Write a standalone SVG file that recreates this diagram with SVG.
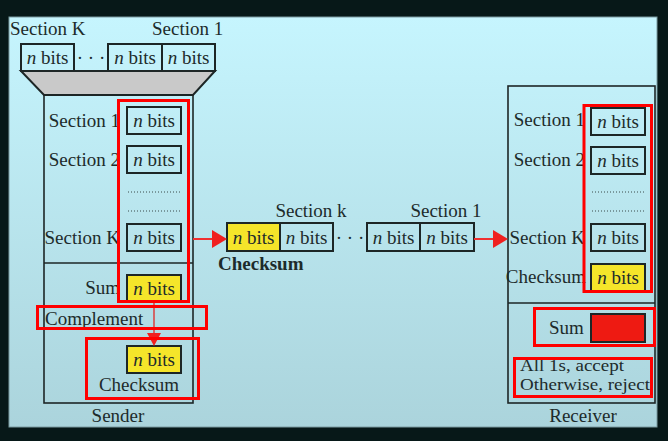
<svg xmlns="http://www.w3.org/2000/svg" width="668" height="441" viewBox="0 0 668 441">
<defs>
<linearGradient id="bg" x1="0" y1="0" x2="0" y2="1">
<stop offset="0" stop-color="#c6f5fe"/>
<stop offset="1" stop-color="#abd4dc"/>
</linearGradient>
<style>
text{font-family:"Liberation Serif","Times New Roman",serif;font-size:19px;fill:#1d2b2b}
.c{text-anchor:middle}
.e{text-anchor:end}
.box{fill:none;stroke:#1d2626;stroke-width:2}
.y{fill:#f5e52a;stroke:#1d2626;stroke-width:2}
.frame{fill:none;stroke:#1d2626;stroke-width:1.6}
.dots{stroke:#3a4a4a;stroke-width:1;stroke-dasharray:1 2}
.hl{fill:none;stroke:#ff0000;stroke-width:3}
.arr{stroke:#f03030;stroke-width:2}
.ah{fill:#f02020}
.sm{font-size:17px}
</style>
</defs>
<rect width="668" height="441" fill="#071818"/>
<rect x="9" y="17" width="648" height="410" fill="url(#bg)" stroke="#7a9aa0" stroke-width="1"/>

<g id="input">
<text x="10" y="35">Section K</text>
<text x="152" y="35">Section 1</text>
<rect class="box" x="21" y="44" width="53" height="27"/>
<rect class="box" x="108" y="44" width="54" height="27"/>
<rect class="box" x="162" y="44" width="53" height="27"/>
<text class="c" x="47.5" y="64"><tspan font-style="italic">n</tspan> bits</text>
<text class="c" x="135" y="64"><tspan font-style="italic">n</tspan> bits</text>
<text class="c" x="188.5" y="64"><tspan font-style="italic">n</tspan> bits</text>
<text class="c" x="91" y="64">· · ·</text>
<polygon points="21,71 215,71 193,95 44,95" fill="#c9c9c9" stroke="#1d2626" stroke-width="2"/>
</g>

<g id="sender">
<rect class="frame" x="44" y="95" width="149" height="308"/>
<line class="frame" x1="44" y1="263" x2="193" y2="263"/>
<text class="e" x="120" y="127">Section 1</text>
<text class="e" x="120" y="166">Section 2</text>
<text class="e" x="120" y="244">Section K</text>
<rect class="box" x="127" y="107" width="54" height="27"/>
<rect class="box" x="127" y="146" width="54" height="27"/>
<rect class="box" x="127" y="224" width="54" height="27"/>
<text class="c" x="154" y="127"><tspan font-style="italic">n</tspan> bits</text>
<text class="c" x="154" y="166"><tspan font-style="italic">n</tspan> bits</text>
<text class="c" x="154" y="244"><tspan font-style="italic">n</tspan> bits</text>
<line class="dots" x1="128" y1="192" x2="181" y2="192"/>
<line class="dots" x1="128" y1="211" x2="181" y2="211"/>
<text class="e" x="120" y="294">Sum</text>
<rect class="y" x="127" y="275" width="54" height="27"/>
<text class="c" x="154" y="295"><tspan font-style="italic">n</tspan> bits</text>
<text x="45" y="325">Complement</text>
<rect class="y" x="127" y="346" width="54" height="27"/>
<text class="c" x="154" y="366"><tspan font-style="italic">n</tspan> bits</text>
<text class="c" x="139" y="391">Checksum</text>
<text class="c" x="118" y="422">Sender</text>
</g>

<g id="transmitted">
<text class="c" x="311" y="217">Section k</text>
<text class="c" x="446" y="217">Section 1</text>
<rect class="y" x="227" y="223" width="53" height="28"/>
<rect class="box" x="280" y="223" width="53" height="28"/>
<rect class="box" x="367" y="223" width="53" height="28"/>
<rect class="box" x="420" y="223" width="54" height="28"/>
<text class="c" x="253.5" y="244"><tspan font-style="italic">n</tspan> bits</text>
<text class="c" x="306.5" y="244"><tspan font-style="italic">n</tspan> bits</text>
<text class="c" x="393.5" y="244"><tspan font-style="italic">n</tspan> bits</text>
<text class="c" x="447" y="244"><tspan font-style="italic">n</tspan> bits</text>
<text class="c" x="350" y="244">· · ·</text>
<text x="218" y="270" font-weight="bold">Checksum</text>
</g>

<g id="receiver">
<rect class="frame" x="508" y="86" width="147" height="317"/>
<line class="frame" x1="508" y1="303" x2="655" y2="303"/>
<text class="e" x="585" y="126">Section 1</text>
<text class="e" x="585" y="166">Section 2</text>
<text class="e" x="585" y="244">Section K</text>
<text class="e" x="586" y="283">Checksum</text>
<rect class="box" x="591" y="108" width="54" height="27"/>
<rect class="box" x="591" y="147" width="54" height="27"/>
<rect class="box" x="591" y="224" width="54" height="27"/>
<rect class="y" x="591" y="264" width="54" height="27"/>
<text class="c" x="618" y="128"><tspan font-style="italic">n</tspan> bits</text>
<text class="c" x="618" y="167"><tspan font-style="italic">n</tspan> bits</text>
<text class="c" x="618" y="244"><tspan font-style="italic">n</tspan> bits</text>
<text class="c" x="618" y="284"><tspan font-style="italic">n</tspan> bits</text>
<line class="dots" x1="592" y1="192" x2="645" y2="192"/>
<line class="dots" x1="592" y1="211" x2="645" y2="211"/>
<text x="549" y="334">Sum</text>
<rect x="591" y="314" width="54" height="28" fill="#ee1a12" stroke="#1d2626" stroke-width="2"/>
<text class="sm" x="520" y="371" textLength="104" lengthAdjust="spacingAndGlyphs">All 1s, accept</text>
<text class="sm" x="520" y="390" textLength="130" lengthAdjust="spacingAndGlyphs">Otherwise, reject</text>
<text class="c" x="583" y="422">Receiver</text>
</g>

<g id="connectors">
<line class="arr" x1="193" y1="239" x2="214" y2="239"/>
<polygon class="ah" points="212,230 227,239 212,248"/>
<line class="arr" x1="474" y1="239" x2="495" y2="239"/>
<polygon class="ah" points="493,230 508,239 493,248"/>
<line x1="154" y1="302" x2="154" y2="334" stroke="#d84848" stroke-width="1.6"/>
<polygon class="ah" points="147,333 161,333 154,346"/>
</g>

<g id="highlights">
<rect class="hl" x="118.5" y="100.5" width="70" height="201"/>
<rect class="hl" x="37.5" y="306.5" width="169" height="22"/>
<rect class="hl" x="86.5" y="338.5" width="112" height="60"/>
<rect class="hl" x="584" y="105.5" width="67.5" height="186"/>
<rect class="hl" x="534.5" y="308.5" width="120" height="37"/>
<rect class="hl" x="514.5" y="358.5" width="137" height="38"/>
</g>
</svg>
